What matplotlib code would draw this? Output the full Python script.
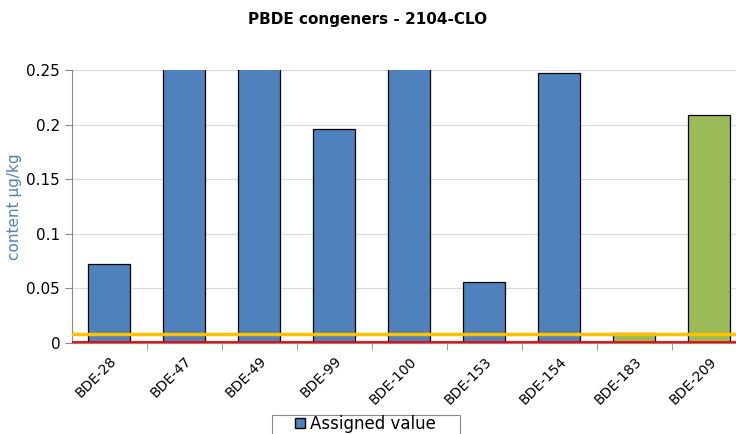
import matplotlib.pyplot as plt
from matplotlib.patches import Patch, Rectangle

# Daten
categories = ['BDE-28', 'BDE-47', 'BDE-49', 'BDE-99', 'BDE-100',
              'BDE-153', 'BDE-154', 'BDE-183', 'BDE-209']
assigned = [0.072, 0.32, 0.30, 0.196, 0.34, 0.056, 0.247, 0.009, 0.209]
bar_colors = ['#4F81BD'] * 7 + ['#9BBB59'] * 2
yellow_level = 0.0085
red_level = 0.0005
yticks = [0, 0.05, 0.1, 0.15, 0.2, 0.25]
ytick_labels = ['0', '0.05', '0.1', '0.15', '0.2', '0.25']

fig = plt.figure(figsize=(7.36, 4.34), dpi=100)
ax = fig.add_axes([0.0978, 0.2097, 0.917, 0.629])

x = list(range(len(categories)))
ax.bar(x, assigned, width=0.56, color=bar_colors, edgecolor='black',
       linewidth=0.9, zorder=3)

ax.axhline(yellow_level, color='#FFC000', linewidth=2.5, zorder=4)
ax.axhline(red_level, color='#FF0000', linewidth=2, zorder=4)

ax.set_xlim(-0.5, len(categories) - 0.5)
ax.set_ylim(0, 0.25)
ax.set_yticks(yticks)
ax.set_yticklabels(ytick_labels, fontsize=11)
ax.set_xticks(x)
ax.set_xticklabels(categories, rotation=45, ha='right', rotation_mode='anchor',
                   fontsize=10)
ax.set_xticks([i + 0.5 for i in x[:-1]], minor=True)
ax.tick_params(axis='x', which='major', length=0, pad=8)
ax.tick_params(axis='x', which='minor', length=5, color='#888888')
ax.tick_params(axis='y', length=5, color='#888888')

ax.grid(axis='y', color='#D9D9D9', linewidth=0.8, zorder=0)
for s in ['top', 'right']:
    ax.spines[s].set_visible(False)
ax.spines['left'].set_color('#888888')
ax.spines['bottom'].set_color('#888888')

ax.set_ylabel('content µg/kg', color='#4F81BD', fontsize=11, labelpad=3)
fig.text(0.5, 0.955, 'PBDE congeners - 2104-CLO', ha='center', va='center',
         fontsize=11, fontweight='bold')

# Legendenrahmen (unten abgeschnitten wie im Original)
fig.add_artist(Rectangle((0.3696, -0.05), 0.2554, 0.094,
                         transform=fig.transFigure, facecolor='white',
                         edgecolor='#888888', linewidth=0.8))
handle = Patch(facecolor='#4F81BD', edgecolor='black', label='Assigned value')
fig.legend(handles=[handle], loc='lower center', bbox_to_anchor=(0.497, 0.003),
           fontsize=12, frameon=False, borderaxespad=0, borderpad=0,
           handlelength=0.6, handleheight=0.6, handletextpad=0.3)

plt.savefig('out.png', dpi=100)
